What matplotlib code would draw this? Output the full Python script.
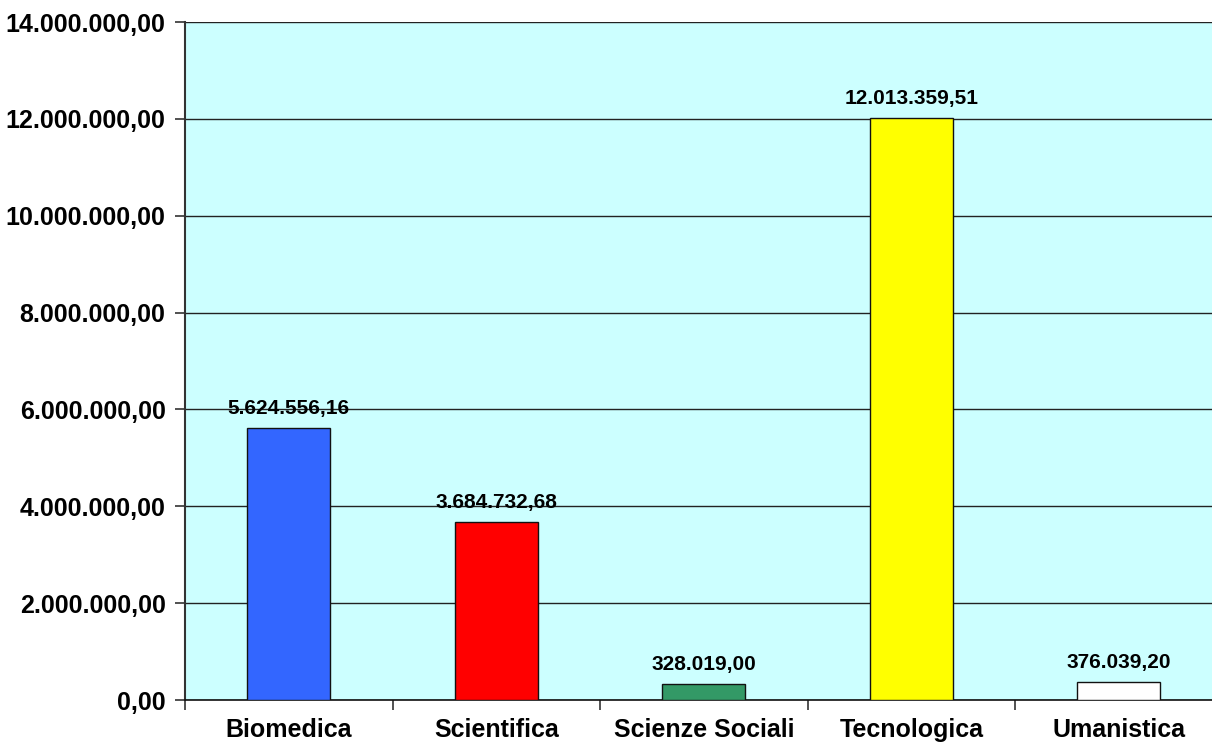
import matplotlib
matplotlib.use('Agg')
import numpy as np
import matplotlib.pyplot as plt
from matplotlib.ticker import FuncFormatter, MultipleLocator, FixedLocator

plt.rcParams['font.family'] = ['Liberation Sans', 'DejaVu Sans']
plt.rcParams['font.weight'] = 'bold'

aree = ['Biomedica', 'Scientifica', 'Scienze Sociali', 'Tecnologica', 'Umanistica']
valori = [5624556.16, 3684732.68, 328019.00, 12013359.51, 376039.20]
colori = ['#3366FF', '#FF0000', '#339966', '#FFFF00', '#FFFFFF']


def fmt_it(v, pos=None):
    # formato italiano: punto per le migliaia, virgola per i decimali
    s = '{:,.2f}'.format(v)
    return s.replace(',', 'X').replace('.', ',').replace('X', '.')


fig = plt.figure(figsize=(12.12, 7.42), dpi=100)
ax = fig.add_axes([185 / 1212, 42 / 742, 1037.5 / 1212, 678 / 742])
ax.set_facecolor('#CCFFFF')

x = np.arange(len(aree))
ax.bar(x, valori, width=0.4, color=colori, edgecolor='#111111', linewidth=1, zorder=3)

for xi, v in zip(x, valori):
    ax.annotate(fmt_it(v), (xi, v), xytext=(0, 7), textcoords='offset points',
                ha='center', va='bottom', fontsize=15, fontweight='bold', zorder=4)

ax.set_xlim(-0.5, len(aree) - 0.5)
ax.set_ylim(0, 14000000)
ax.yaxis.set_major_locator(MultipleLocator(2000000))
ax.yaxis.set_major_formatter(FuncFormatter(fmt_it))
ax.grid(axis='y', color='#222222', linewidth=1, zorder=1)

ax.set_xticks(x)
ax.set_xticklabels(aree)
ax.xaxis.set_minor_locator(FixedLocator(np.arange(-0.5, len(aree), 1.0)))
ax.tick_params(axis='x', which='major', length=0, pad=13, labelsize=18)
ax.tick_params(axis='x', which='minor', length=7, width=1.2, color='#333333')
ax.tick_params(axis='y', length=7, width=1.2, color='#333333', pad=7, labelsize=18)

for lato in ['top', 'right']:
    ax.spines[lato].set_visible(False)
ax.spines['left'].set_color('#333333')
ax.spines['left'].set_linewidth(1.5)
ax.spines['bottom'].set_color('#111111')
ax.spines['bottom'].set_linewidth(1.2)

plt.savefig('out.png', dpi=100)
